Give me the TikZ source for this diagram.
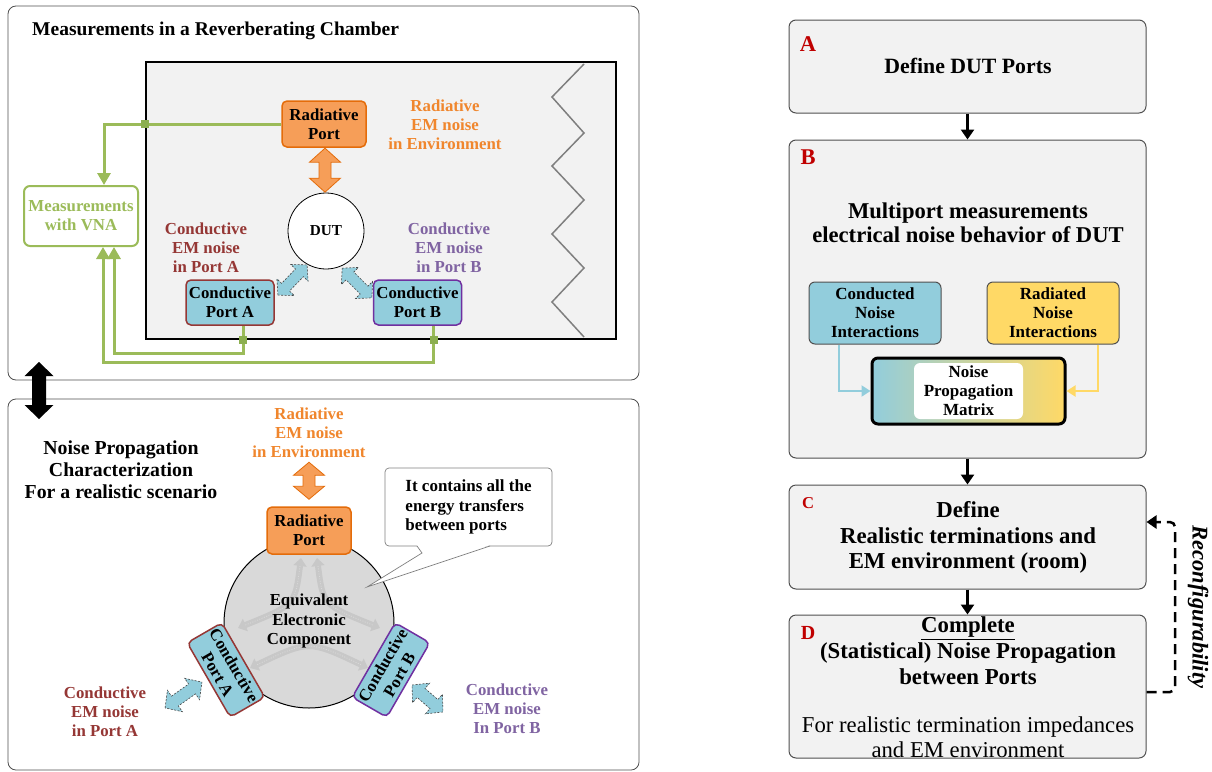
\documentclass[tikz,border=0pt]{standalone}
\usepackage{fontspec}
\setmainfont{Liberation Serif}
\usetikzlibrary{arrows.meta,calc}
\newcommand{\fsz}[2]{\fontsize{#1}{#2}\selectfont}
\definecolor{orfill}{RGB}{246,158,88}
\definecolor{ordraw}{RGB}{228,108,10}
\definecolor{ortext}{RGB}{240,134,45}
\definecolor{cblue}{RGB}{146,205,220}
\definecolor{redb}{RGB}{149,55,53}
\definecolor{purb}{RGB}{112,48,160}
\definecolor{purt}{RGB}{128,100,162}
\definecolor{gr}{RGB}{155,187,89}
\definecolor{grmark}{RGB}{140,175,80}
\definecolor{lgray}{RGB}{242,242,242}
\definecolor{cgray}{RGB}{217,217,217}
\definecolor{hgray}{RGB}{200,200,200}
\definecolor{yel}{RGB}{255,217,102}
\definecolor{redl}{RGB}{192,0,0}
\definecolor{bdr}{RGB}{80,80,80}
\definecolor{zz}{RGB}{127,127,127}
\definecolor{dgray}{RGB}{70,70,70}
\tikzset{
  pics/dblarr/.style n args={4}{code={%
    \path[pic actions] (-#1/2,0) -- (-#1/2+#4,-#2/2) -- (-#1/2+#4,-#3/2) -- (#1/2-#4,-#3/2) -- (#1/2-#4,-#2/2) -- (#1/2,0) -- (#1/2-#4,#2/2) -- (#1/2-#4,#3/2) -- (-#1/2+#4,#3/2) -- (-#1/2+#4,#2/2) -- cycle;}},
  panel/.style={draw=bdr, line width=0.8pt, rounded corners=8pt, fill=white, inner sep=0},
  rport/.style={draw=ordraw, fill=orfill, line width=1.5pt, rounded corners=5pt, minimum width=84pt, minimum height=46pt, align=center, font=\fsz{16.8}{19}\bfseries, inner sep=0},
  cport/.style={fill=cblue, line width=1.5pt, rounded corners=5pt, minimum width=88pt, minimum height=45pt, align=center, font=\fsz{16.8}{19}\bfseries, inner sep=0},
  lbl/.style={align=center, font=\fsz{16.8}{19.2}\bfseries, inner sep=0},
  gline/.style={gr, line width=3pt},
  gtip/.style={-{Triangle[width=13pt,length=12pt]}},
  gmark/.style={fill=grmark, minimum size=8pt, inner sep=0},
  stepbox/.style={draw=bdr, line width=1pt, fill=lgray, rounded corners=7pt, minimum width=357pt, inner sep=0},
  bigtxt/.style={align=center, font=\fsz{22.6}{24.5}\bfseries, inner sep=0},
  letter/.style={text=redl, inner sep=0},
  blk/.style={line width=2.5pt, -{Triangle[width=13pt,length=10pt]}},
  noisebox/.style={draw=bdr, line width=1pt, rounded corners=6pt, minimum width=132pt, minimum height=62pt, align=center, font=\fsz{17}{19}\bfseries, inner sep=0},
  oarrow/.style={fill=orfill, draw=ordraw, line width=0.8pt},
  barrow/.style={fill=cblue, draw=dgray, line width=0.6pt, dash pattern=on 2pt off 1.5pt},
  hatcharrow/.style={hgray, line width=6pt, {Triangle[width=13pt,length=8pt]}-{Triangle[width=13pt,length=8pt]}},
  hatchline/.style={cgray, line width=0.8pt, dash pattern=on 1pt off 1.5pt, shorten <=8pt, shorten >=8pt}
}
\begin{document}
\begin{tikzpicture}[x=1pt,y=-1pt]
\useasboundingbox (0,0) rectangle (1212,771);
% ===== top-left panel =====
\node[panel, minimum width=631pt, minimum height=374pt] (toppanel) at (323.5,193) {};
\node[anchor=west, font=\fsz{19.5}{22}\bfseries, inner sep=0] (title) at (32,31) {Measurements in a Reverberating Chamber};
\node[draw=black, line width=2.8pt, fill=lgray, minimum width=470pt, minimum height=277pt, inner sep=0] (chamber) at (381,200.5) {};
\draw[zz, line width=1.5pt] (584,64) -- (552,97) -- (584,133) -- (552,166) -- (584,200) -- (552,234) -- (584,268) -- (552,302) -- (584,337);
\node[rport] (rp1) at (324,124) {Radiative\\Port};
\node[circle, draw=black, line width=0.8pt, fill=white, minimum size=76pt, inner sep=0, font=\fsz{15.2}{17}\bfseries] (dut) at (326,231) {DUT};
\pic[oarrow, rotate=90] at ($(rp1.south)!0.5!(dut.north)$) {dblarr={44}{31}{12}{14}};
\node[lbl, text=ortext] (rtxt1) at (445,125) {Radiative\\EM noise\\in Environment};
\node[draw=gr, line width=2pt, rounded corners=6pt, fill=white, minimum width=114pt, minimum height=60pt, text=gr, lbl] (vna) at (81,216) {Measurements\\with VNA};
\node[lbl, text=redb] (atxt1) at (206,248) {Conductive\\EM noise\\in Port A};
\node[lbl, text=purt] (btxt1) at (449,248) {Conductive\\EM noise\\in Port B};
\node[cport, draw=redb] (pa1) at (230,302.5) {Conductive\\Port A};
\node[cport, draw=purb] (pb1) at (417.5,302.5) {Conductive\\Port B};
\pic[barrow, rotate=46] at (292.5,280) {dblarr={42}{24}{11}{11}};
\pic[barrow, rotate=-45] at (357,283) {dblarr={42}{24}{11}{11}};
% green measurement lines
\draw[gline, gtip] (rp1.west) -| ([xshift=23pt]vna.north);
\draw[gline, gtip] ([xshift=13pt]pa1.south) -- ++(0,28) -| ([xshift=33pt]vna.south);
\draw[gline, gtip] ([xshift=16pt]pb1.south) -- ++(0,37) -| ([xshift=22pt]vna.south);
\node[gmark] (m1) at (chamber.west |- rp1.west) {};
\node[gmark] (m2) at ([xshift=13pt]pa1.south |- chamber.south) {};
\node[gmark] (m3) at ([xshift=16pt]pb1.south |- chamber.south) {};
% ===== bottom-left panel =====
\node[panel, minimum width=631pt, minimum height=371pt] (botpanel) at (323.5,584.5) {};
\pic[fill=black, rotate=90] at (39,390.5) {dblarr={57}{29}{14}{14}};
\node[align=center, font=\fsz{19.8}{22}\bfseries, inner sep=0] (npc) at (121,470) {Noise Propagation\\Characterization\\For a realistic scenario};
\node[lbl, text=ortext] (rtxt2) at (309,433) {Radiative\\EM noise\\in Environment};
\node[circle, draw=black, line width=1pt, fill=cgray, minimum size=170pt, inner sep=0] (eec) at (309,623) {};
\draw[hatcharrow] (301,558) .. controls (295,605) .. (238,628);
\draw[hatcharrow] (317,558) .. controls (323,605) .. (380,628);
\draw[hatcharrow] (250,668) .. controls (309,640) .. (368,668);
\draw[hatchline] (301,558) .. controls (295,605) .. (238,628);
\draw[hatchline] (317,558) .. controls (323,605) .. (380,628);
\draw[hatchline] (250,668) .. controls (309,640) .. (368,668);
\node[lbl] (eectxt) at (309,621) {Equivalent\\Electronic\\Component};
\node[rport, minimum height=47pt] (rp2) at (309,530.5) {Radiative\\Port};
\pic[oarrow, rotate=90] at ($(rp2.north)+(0,-25.5)$) {dblarr={37}{31}{12}{13}};
\node[cport, draw=redb, rotate=-60, minimum width=86pt, minimum height=40pt] (pa2) at (226,670) {Conductive\\Port A};
\node[cport, draw=purb, rotate=60, minimum width=86pt, minimum height=40pt] (pb2) at (391,670) {Conductive\\Port B};
\node[draw=gray, line width=0.7pt, rounded corners=4pt, fill=white, minimum width=167pt, minimum height=78pt, align=left, font=\fsz{17}{19.2}\bfseries, inner sep=0] (callout) at (468.5,507) {It contains all the\\energy transfers\\between ports};
\coordinate (ctip) at (367,587);
\fill[white] (417,545) -- (422,553) -- (ctip) -- (490,545) -- cycle;
\draw[gray, line width=0.7pt] (417,546) -- (422,553) -- (ctip) -- (490,546);
\node[lbl, text=redb] (atxt2) at (105,712) {Conductive\\EM noise\\in Port A};
\node[lbl, text=purt] (btxt2) at (507,709) {Conductive\\EM noise\\In Port B};
\pic[barrow, rotate=35] at (183.5,695) {dblarr={45}{26}{12}{12}};
\pic[barrow, rotate=-41] at (427.5,698.5) {dblarr={41}{26}{12}{12}};
% ===== right column =====
\node[stepbox, minimum height=93pt] (ba) at (967.5,66.5) {};
\node[stepbox, minimum height=318pt] (bb) at (967.5,299) {};
\node[stepbox, minimum height=104pt] (bc) at (967.5,537) {};
\node[stepbox, minimum height=143pt] (bd) at (967.5,686.5) {};
\node[letter, font=\fsz{22.5}{24}\bfseries] (la) at (808,44) {A};
\node[letter, font=\fsz{22.5}{24}\bfseries] (lb) at (808,157) {B};
\node[letter, font=\fsz{16.6}{18}\bfseries] (lc) at (808,503) {C};
\node[letter, font=\fsz{20}{22}\bfseries] (ld) at (808,633) {D};
\node[bigtxt, font=\fsz{21.8}{24}\bfseries] (ta) at (968,66) {Define DUT Ports};
\node[bigtxt] (tb) at (968,223) {Multiport measurements\\electrical noise behavior of DUT};
\node[noisebox, fill=cblue] (cn) at (875,313) {Conducted\\Noise\\Interactions};
\node[noisebox, fill=yel] (rn) at (1053,313) {Radiated\\Noise\\Interactions};
\node[draw=black, line width=3pt, rounded corners=6pt, left color=cblue, right color=yel, minimum width=193pt, minimum height=66pt, inner sep=0] (mx) at (968.5,391) {};
\node[fill=white, rounded corners=6pt, minimum width=109pt, minimum height=56pt, align=center, font=\fsz{17}{19}\bfseries, inner sep=0] (mxin) at (mx.center) {Noise\\Propagation\\Matrix};
\draw[cblue, line width=2pt, -{Triangle[width=11pt,length=9pt]}] ([xshift=-36pt]cn.south) |- (mx.west);
\draw[yel, line width=2pt, -{Triangle[width=11pt,length=9pt]}] ([xshift=45pt]rn.south) |- (mx.east);
\node[bigtxt, font=\fsz{22.8}{25.5}\bfseries] (tc) at (968,537.5) {Define\\Realistic terminations and\\EM environment (room)};
\node[bigtxt, font=\fsz{22.8}{26}\bfseries] (td) at (968,651) {\underline{Complete}\\(Statistical) Noise Propagation\\between Ports};
\node[align=center, font=\fsz{22.7}{25}, inner sep=0] (td2) at (968,737.5) {For realistic termination impedances\\and EM environment};
\draw[blk] (ba.south) -- (bb.north);
\draw[blk] (bb.south) -- (bc.north);
\draw[blk] (bc.south) -- (bd.north);
\coordinate (rc1) at (1175,692);
\coordinate (rc2) at (1175,522);
\draw[line width=2.5pt, dash pattern=on 10pt off 6pt, rounded corners=5pt, -{Triangle[width=13pt,length=10pt]}] ([yshift=-5.5pt]bd.east) -- (rc1) -- (rc2) -- ([yshift=15pt]bc.east);
\node[rotate=-90, font=\fsz{22.5}{24}\bfseries\itshape, inner sep=0] (reconf) at (1198,607) {Reconfigurability};
\end{tikzpicture}
\end{document}
